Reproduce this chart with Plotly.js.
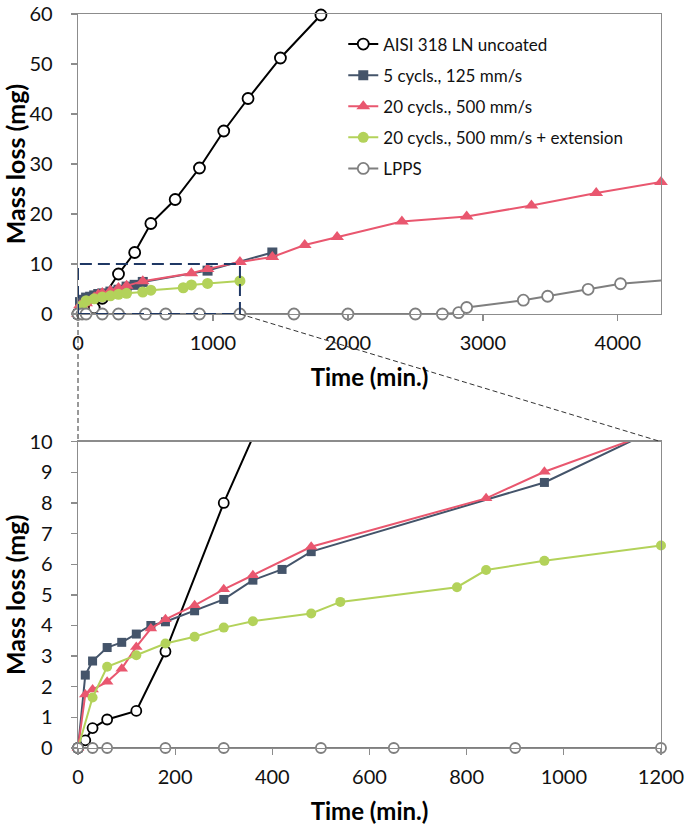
<!DOCTYPE html>
<html>
<head>
<meta charset="utf-8">
<script src="https://cdn.plot.ly/plotly-3.0.1.min.js"></script>
<style>html,body{margin:0;padding:0;background:#fff;}#chart{width:685px;height:829px;}</style>
</head>
<body>
<div id="chart"></div>
<script>
// ---- Data ----
const seriesNames = ["AISI 318 LN uncoated", "5 cycls., 125 mm/s", "20 cycls., 500 mm/s", "20 cycls., 500 mm/s + extension", "LPPS"];

const timeAISI = [0, 15, 30, 60, 120, 180, 300, 420, 540, 720, 900, 1080, 1260, 1500, 1800];
const massAISI = [0, 0.25, 0.65, 0.93, 1.21, 3.15, 8.0, 12.3, 18.1, 22.9, 29.2, 36.6, 43.1, 51.2, 59.8];

const time5c = [0, 15, 30, 60, 90, 120, 150, 180, 240, 300, 360, 420, 480, 960, 1440];
const mass5c = [0, 2.38, 2.84, 3.28, 3.45, 3.72, 4.0, 4.12, 4.48, 4.85, 5.48, 5.83, 6.41, 8.67, 12.3];

const time20c = [0, 15, 30, 60, 90, 120, 150, 180, 240, 300, 360, 480, 840, 960, 1200, 1440, 1680, 1920, 2400, 2880, 3360, 3840, 4320];
const mass20c = [0, 1.75, 1.91, 2.16, 2.59, 3.3, 3.9, 4.2, 4.66, 5.18, 5.64, 6.57, 8.15, 9.02, 10.4, 11.4, 13.8, 15.4, 18.5, 19.5, 21.7, 24.2, 26.4];

const time20cExt = [0, 30, 60, 120, 180, 240, 300, 360, 480, 540, 780, 840, 960, 1200];
const mass20cExt = [0, 1.65, 2.65, 3.03, 3.41, 3.63, 3.93, 4.14, 4.39, 4.77, 5.25, 5.81, 6.11, 6.61];

const timeLPPS = [0, 30, 60, 180, 300, 500, 650, 900, 1200, 1600, 2000, 2500, 2700, 2820, 2880, 3300, 3480, 3780, 4020, 4500];
const massLPPS = [0, 0, 0, 0, 0, 0, 0, 0, 0, 0, 0, 0, 0, 0.26, 1.3, 2.76, 3.55, 4.93, 6.05, 7.1];

const xTicksTop = [0, 1000, 2000, 3000, 4000];
const yTicksTop = [0, 10, 20, 30, 40, 50, 60];
const xTicksBottom = [0, 200, 400, 600, 800, 1000, 1200];
const yTicksBottom = [0, 1, 2, 3, 4, 5, 6, 7, 8, 9, 10];

const topXRange = [0, 4320];
const topYRange = [0, 60];
const zoomXRange = [0, 1200];
const zoomYRange = [0, 10];

// ---- Styles ----
const FONT = "Lato, 'Open Sans', sans-serif";
const styles = [
  {line: {color: '#000000', width: 2}, marker: {symbol: 'circle', size: 11, color: '#ffffff', line: {color: '#000000', width: 1.8}}},
  {line: {color: '#44546A', width: 2}, marker: {symbol: 'square', size: 10, color: '#44546A'}},
  {line: {color: '#E9576F', width: 2}, marker: {symbol: 'triangle-up', size: 12, color: '#E9576F'}},
  {line: {color: '#B3D25A', width: 2}, marker: {symbol: 'circle', size: 11, color: '#B3D25A'}},
  {line: {color: '#7F7F7F', width: 2}, marker: {symbol: 'circle', size: 11, color: '#ffffff', line: {color: '#7F7F7F', width: 1.8}}}
];
const xs = [timeAISI, time5c, time20c, time20cExt, timeLPPS];
const ys = [massAISI, mass5c, mass20c, mass20cExt, massLPPS];

const traces = [];
for (let i = 0; i < 5; i++) {
  traces.push({
    x: xs[i], y: ys[i], name: seriesNames[i], type: 'scatter', mode: 'lines+markers',
    xaxis: 'x', yaxis: 'y', line: styles[i].line, marker: styles[i].marker,
    cliponaxis: false, legendgroup: 'g' + i, hoverinfo: 'x+y'
  });
}
for (let i = 0; i < 5; i++) {
  traces.push({
    x: xs[i], y: ys[i], name: seriesNames[i], type: 'scatter', mode: 'lines+markers',
    xaxis: 'x2', yaxis: 'y2', line: styles[i].line, marker: Object.assign({}, styles[i].marker, {size: styles[i].marker.size - 1}),
    cliponaxis: false, showlegend: false, hoverinfo: 'x+y'
  });
}

const topDomain = [0.5913, 1.0];
const bottomDomain = [0, 0.4173];

const axisCommon = {
  showgrid: false, zeroline: false, showline: true, mirror: true,
  linecolor: '#8C8C8C', linewidth: 1.3, ticks: 'outside', ticklen: 6, tickcolor: '#8C8C8C', tickwidth: 1.3,
  tickfont: {family: FONT, size: 20, color: '#111111'}, fixedrange: true,
  ticklabeloverflow: 'allow'
};
const titleFont = {family: FONT, size: 25, color: '#000000', weight: 'bold'};
const xTitleFont = {family: FONT, size: 24, color: '#000000', weight: 'bold'};

const layout = {
  width: 685, height: 829,
  margin: {l: 78, r: 24, t: 14, b: 81},
  paper_bgcolor: '#ffffff', plot_bgcolor: '#ffffff',
  showlegend: true,
  legend: {
    x: 0.455, y: 0.983, xanchor: 'left', yanchor: 'top',
    bgcolor: 'rgba(0,0,0,0)', borderwidth: 0,
    font: {family: FONT, size: 17, color: '#111111'},
    traceorder: 'grouped', tracegroupgap: 6
  },
  xaxis: Object.assign({}, axisCommon, {
    domain: [0, 1], range: topXRange, tickvals: xTicksTop, ticktext: xTicksTop.map(String), anchor: 'y',
    ticklabelstandoff: 5,
    title: {text: '<b>Time (min.)</b>', font: xTitleFont, standoff: 16}
  }),
  yaxis: Object.assign({}, axisCommon, {
    domain: topDomain, range: topYRange, tickvals: yTicksTop, ticktext: yTicksTop.map(String), anchor: 'x',
    ticklabelstandoff: 14,
    title: {text: '<b>Mass loss (mg)</b>', font: titleFont, standoff: 3}
  }),
  xaxis2: Object.assign({}, axisCommon, {
    domain: [0, 1], range: zoomXRange, tickvals: xTicksBottom, ticktext: xTicksBottom.map(String), anchor: 'y2',
    ticklabelstandoff: 5,
    title: {text: '<b>Time (min.)</b>', font: xTitleFont, standoff: 16}
  }),
  yaxis2: Object.assign({}, axisCommon, {
    domain: bottomDomain, range: zoomYRange, tickvals: yTicksBottom, ticktext: yTicksBottom.map(String), anchor: 'x2',
    ticklabelstandoff: 14,
    title: {text: '<b>Mass loss (mg)</b>', font: titleFont, standoff: 3}
  }),
  shapes: [
    // zoom window in the overview chart
    {type: 'rect', xref: 'x', yref: 'y', x0: zoomXRange[0], x1: zoomXRange[1], y0: zoomYRange[0], y1: zoomYRange[1],
     line: {color: '#1F3864', width: 2, dash: '12px,6px'}, fillcolor: 'rgba(0,0,0,0)', layer: 'above'},
    // connector lines to the zoomed chart
    {type: 'line', xref: 'paper', yref: 'paper',
     x0: (zoomXRange[0] - topXRange[0]) / (topXRange[1] - topXRange[0]), y0: topDomain[0],
     x1: 0, y1: bottomDomain[1],
     line: {color: '#333333', width: 1, dash: '5px,3px'}},
    {type: 'line', xref: 'paper', yref: 'paper',
     x0: (zoomXRange[1] - topXRange[0]) / (topXRange[1] - topXRange[0]), y0: topDomain[0],
     x1: 1, y1: bottomDomain[1],
     line: {color: '#333333', width: 1, dash: '5px,3px'}}
  ]
};

Plotly.newPlot('chart', traces, layout, {displayModeBar: false, staticPlot: true});
</script>
</body>
</html>
